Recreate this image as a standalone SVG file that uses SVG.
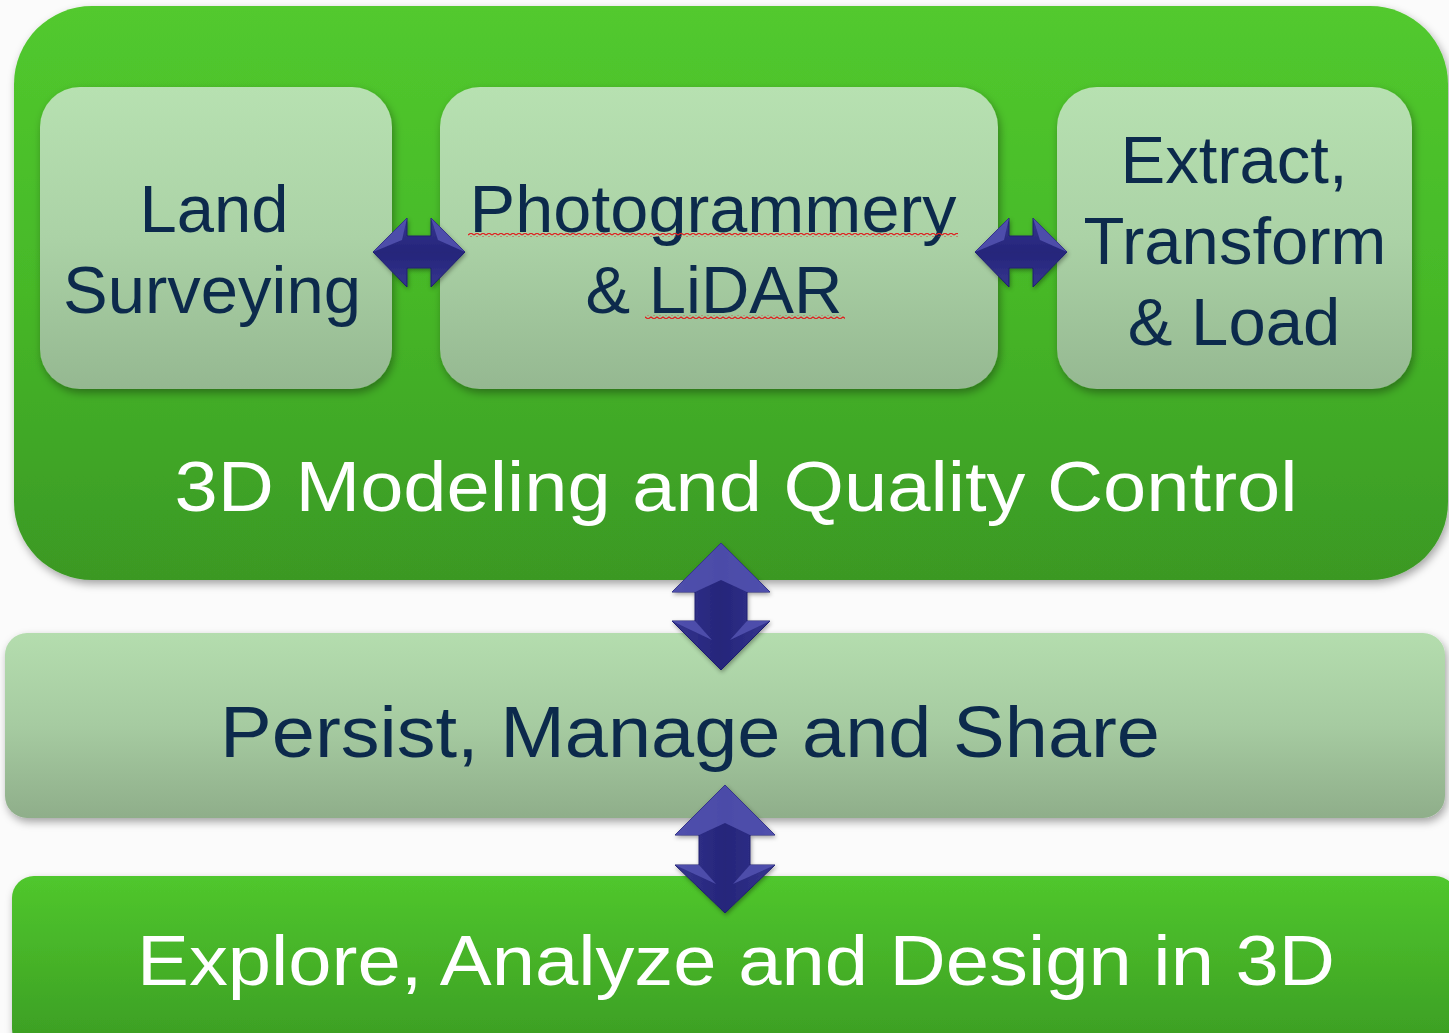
<svg xmlns="http://www.w3.org/2000/svg" width="1449" height="1033" viewBox="0 0 1449 1033">
<defs>
<linearGradient id="gDark" x1="0" y1="0" x2="0" y2="1">
<stop offset="0" stop-color="#52c92e"/>
<stop offset="0.5" stop-color="#46b828"/>
<stop offset="1" stop-color="#3b9824"/>
</linearGradient>
<linearGradient id="gBottom" x1="0" y1="0" x2="0" y2="1">
<stop offset="0" stop-color="#50c72d"/>
<stop offset="1" stop-color="#3b9c23"/>
</linearGradient>
<linearGradient id="gLight" x1="0" y1="0" x2="0" y2="1">
<stop offset="0" stop-color="#b7e1b1"/>
<stop offset="0.5" stop-color="#abd2a6"/>
<stop offset="1" stop-color="#95b891"/>
</linearGradient>
<linearGradient id="gMid" x1="0" y1="0" x2="0" y2="1">
<stop offset="0" stop-color="#b4ddae"/>
<stop offset="0.5" stop-color="#a6cba1"/>
<stop offset="1" stop-color="#8fae8a"/>
</linearGradient>
<linearGradient id="gArrowV" x1="0" y1="0" x2="1" y2="0">
<stop offset="0" stop-color="#35358f"/>
<stop offset="0.5" stop-color="#25257a"/>
<stop offset="1" stop-color="#35358f"/>
</linearGradient>
<linearGradient id="gArrowH" x1="0" y1="0" x2="0" y2="1">
<stop offset="0" stop-color="#35358f"/>
<stop offset="0.5" stop-color="#25257a"/>
<stop offset="1" stop-color="#35358f"/>
</linearGradient>
<pattern id="squig" x="0" y="0" width="6" height="4" patternUnits="userSpaceOnUse">
<polyline points="0,3 3,1 6,3" fill="none" stroke="#e02020" stroke-width="1.4"/>
</pattern>
<filter id="shadow" x="-5%" y="-5%" width="110%" height="115%">
<feDropShadow dx="2" dy="4" stdDeviation="4" flood-color="#000" flood-opacity="0.35"/>
</filter>
<filter id="ashadow" x="-20%" y="-20%" width="140%" height="140%">
<feDropShadow dx="1" dy="2" stdDeviation="2" flood-color="#000" flood-opacity="0.35"/>
</filter>
</defs>
<style>
.dark{font-family:"Liberation Sans",Arial,sans-serif;fill:#0c2a4c;text-anchor:middle}
.white{font-family:"Liberation Sans",Arial,sans-serif;fill:#ffffff;text-anchor:middle}
.arrow{stroke:#1f1f70;stroke-width:1}
.bevel{fill:#5656b4;opacity:0.8}
</style>
<rect width="1449" height="1033" fill="#fbfbfb"/>

<g id="modeling">
<rect x="14" y="6" width="1434" height="574" rx="78" fill="url(#gDark)" filter="url(#shadow)"/>
<text class="white" x="736" y="511" font-size="70" textLength="1123" lengthAdjust="spacingAndGlyphs">3D Modeling and Quality Control</text>
</g>

<g id="land">
<rect x="40" y="87" width="352" height="302" rx="40" fill="url(#gLight)" filter="url(#shadow)"/>
<text class="dark" x="214" y="232" font-size="67">Land</text>
<text class="dark" x="212" y="313" font-size="67">Surveying</text>
</g>

<g id="photo">
<rect x="440" y="87" width="558" height="302" rx="40" fill="url(#gLight)" filter="url(#shadow)"/>
<text class="dark" x="713" y="232" font-size="67" textLength="487" lengthAdjust="spacingAndGlyphs">Photogrammery</text>
<text class="dark" x="714" y="313" font-size="67">&amp; LiDAR</text>
<rect x="468" y="233" width="490" height="4" fill="url(#squig)"/>
<rect x="645" y="315" width="200" height="4" fill="url(#squig)"/>
</g>

<g id="etl">
<rect x="1057" y="87" width="355" height="302" rx="40" fill="url(#gLight)" filter="url(#shadow)"/>
<text class="dark" x="1234" y="183" font-size="67">Extract,</text>
<text class="dark" x="1235" y="264" font-size="67">Transform</text>
<text class="dark" x="1234" y="345" font-size="67">&amp; Load</text>
</g>

<g id="persist">
<rect x="5" y="633" width="1440" height="185" rx="22" fill="url(#gMid)" filter="url(#shadow)"/>
<text class="dark" x="690" y="757" font-size="72" textLength="940" lengthAdjust="spacingAndGlyphs">Persist, Manage and Share</text>
</g>

<g id="explore">
<rect x="12" y="876" width="1445" height="175" rx="22" fill="url(#gBottom)" filter="url(#shadow)"/>
<text class="white" x="736" y="985" font-size="70" textLength="1198" lengthAdjust="spacingAndGlyphs">Explore, Analyze and Design in 3D</text>
</g>

<g id="connectors" filter="url(#ashadow)">
<path class="arrow" fill="url(#gArrowH)" d="M373,252 L407,218 L407,236 L431,236 L431,218 L465,252 L431,287 L431,268 L407,268 L407,287 Z"/>
<path class="bevel" d="M373,252 L407,218 L402,240 Z"/>
<path class="bevel" d="M431,218 L465,252 L438,240 Z"/>
<path class="arrow" fill="url(#gArrowH)" d="M975,252 L1009,218 L1009,236 L1033,236 L1033,218 L1067,252 L1033,287 L1033,268 L1009,268 L1009,287 Z"/>
<path class="bevel" d="M975,252 L1009,218 L1004,240 Z"/>
<path class="bevel" d="M1033,218 L1067,252 L1040,240 Z"/>
<path class="arrow" fill="url(#gArrowV)" d="M721,543 L770,592 L747,592 L747,621 L770,621 L721,670 L672,621 L695,621 L695,592 L672,592 Z"/>
<path class="bevel" d="M721,543 L770,592 L747,592 L721,580 L695,592 L672,592 Z" opacity="0.35"/>
<path class="bevel" d="M672,621 L695,621 L712,640 Z"/>
<path class="bevel" d="M770,621 L747,621 L730,640 Z"/>
<path class="arrow" fill="url(#gArrowV)" d="M725,785 L775,835 L750,835 L750,865 L775,865 L725,913 L675,865 L699,865 L699,835 L675,835 Z"/>
<path class="bevel" d="M725,785 L775,835 L750,835 L725,823 L699,835 L675,835 Z" opacity="0.35"/>
<path class="bevel" d="M675,865 L699,865 L716,884 Z"/>
<path class="bevel" d="M775,865 L750,865 L733,884 Z"/>
</g>
</svg>
